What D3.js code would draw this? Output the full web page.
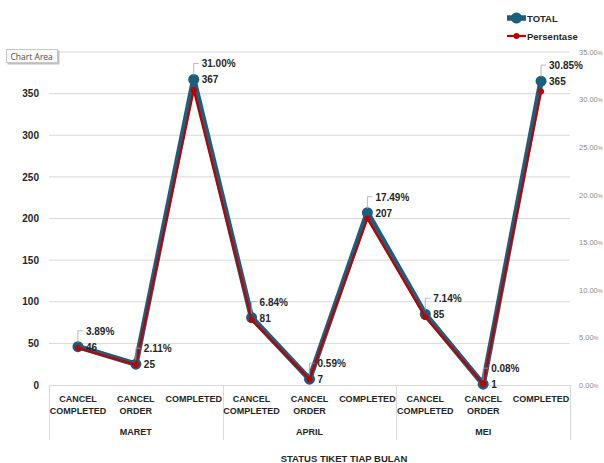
<!DOCTYPE html>
<html>
<head>
<meta charset="utf-8">
<script src="https://cdn.jsdelivr.net/npm/d3@7"></script>
<style>
  body { margin: 0; background: #fff; }
  svg { display: block; font-family: "Liberation Sans", Arial, sans-serif; }
</style>
</head>
<body>
<div id="chart"></div>
<script>
// chart data
const months = ['MARET', 'APRIL', 'MEI'];
const statuses = ['CANCEL COMPLETED', 'CANCEL ORDER', 'COMPLETED'];
const totals = [46, 25, 367, 81, 7, 207, 85, 1, 365];
const persen = [3.89, 2.11, 31.00, 6.84, 0.59, 17.49, 7.14, 0.08, 30.85];
const leftTicks = [0, 50, 100, 150, 200, 250, 300, 350];
const gridTicks = [50, 100, 150, 200, 250, 300, 350, 400];
const rightTicks = [0, 5, 10, 15, 20, 25, 30, 35];

const width = 604, height = 463;
const plot = { left: 49, right: 570, top: 52, bottom: 385 };
const blue = '#1c5e7e', red = '#c00000';

const rows = [];
months.forEach((m, i) => statuses.forEach((s, j) => {
  const k = i * statuses.length + j;
  rows.push({ id: k, month: m, status: s, total: totals[k], pct: persen[k] });
}));

const svg = d3.select('#chart').append('svg')
  .attr('width', width)
  .attr('height', height);

const x = d3.scaleBand()
  .domain(rows.map(d => d.id))
  .range([plot.left, plot.right]);

const yL = d3.scaleLinear().domain([0, 400]).range([plot.bottom, plot.top]);
const yR = d3.scaleLinear().domain([0, 35]).range([plot.bottom, plot.top]);

const cx = d => x(d.id) + x.bandwidth() / 2;

// gridlines
svg.append('g')
  .selectAll('line')
  .data(gridTicks)
  .enter()
  .append('line')
  .attr('x1', plot.left).attr('x2', plot.right)
  .attr('y1', d => yL(d)).attr('y2', d => yL(d))
  .attr('stroke', '#d9d9d9').attr('stroke-width', 1);

// left axis labels (400 sits under the tooltip in the original)
let axisL = svg.append('g')
  .attr('transform', `translate(${plot.left},0)`)
  .call(d3.axisLeft(yL).tickValues(leftTicks).tickSize(0).tickPadding(10));
axisL.select('.domain').remove();
axisL.selectAll('text')
  .attr('font-size', 10).attr('font-weight', 'bold').attr('fill', '#262626')
  .attr('font-family', '"Liberation Sans", Arial, sans-serif');

// right axis labels
let axisR = svg.append('g')
  .attr('transform', `translate(${plot.right},0)`)
  .call(d3.axisRight(yR).tickValues(rightTicks).tickSize(0).tickPadding(9).tickFormat(d => d.toFixed(2)));
axisR.select('.domain').remove();
axisR.selectAll('text')
  .attr('font-size', 7.5).attr('fill', '#8c8c8c')
  .attr('font-family', '"Liberation Sans", Arial, sans-serif')
  .append('tspan').attr('font-size', 5.5).text('%');

// category axis
let catAxis = svg.append('g');
catAxis.append('line')
  .attr('x1', plot.left).attr('x2', plot.right)
  .attr('y1', plot.bottom + 0.5).attr('y2', plot.bottom + 0.5)
  .attr('stroke', '#d9d9d9');

let sepX = [0, 3, 6].map(i => x(i)).concat([plot.right]);
catAxis.selectAll('line.sep')
  .data(sepX)
  .enter()
  .append('line')
  .classed('sep', true)
  .attr('x1', d => Math.round(d) + 0.5).attr('x2', d => Math.round(d) + 0.5)
  .attr('y1', plot.bottom).attr('y2', 440)
  .attr('stroke', '#d9d9d9');

let catText = catAxis.selectAll('text.cat')
  .data(rows)
  .enter()
  .append('text')
  .classed('cat', true)
  .attr('text-anchor', 'middle')
  .attr('font-size', 9).attr('font-weight', 'bold').attr('fill', '#262626')
  .attr('y', 402);

catText.each(function(d) {
  const words = d.status === 'COMPLETED' ? ['COMPLETED'] : d.status.split(' ');
  d3.select(this).selectAll('tspan')
    .data(words)
    .enter()
    .append('tspan')
    .attr('x', cx(d))
    .attr('dy', (w, i) => i === 0 ? 0 : 12)
    .text(w => w);
});

catAxis.selectAll('text.month')
  .data(months)
  .enter()
  .append('text')
  .classed('month', true)
  .attr('text-anchor', 'middle')
  .attr('font-size', 9).attr('font-weight', 'bold').attr('fill', '#262626')
  .attr('x', (d, i) => (sepX[i] + sepX[i + 1]) / 2)
  .attr('y', 435)
  .text(d => d);

// axis title
svg.append('text')
  .attr('x', 344).attr('y', 462)
  .attr('text-anchor', 'middle')
  .attr('font-size', 9.5).attr('font-weight', 'bold').attr('fill', '#262626')
  .text('STATUS TIKET TIAP BULAN');

// lines
const lineL = d3.line().x(cx).y(d => yL(d.total));
const lineR = d3.line().x(cx).y(d => yR(d.pct));

svg.append('path')
  .datum(rows)
  .attr('d', lineL)
  .attr('fill', 'none')
  .attr('stroke', blue)
  .attr('stroke-width', 5.5)
  .attr('stroke-linejoin', 'round');

svg.append('g')
  .selectAll('circle')
  .data(rows)
  .enter()
  .append('circle')
  .attr('cx', cx).attr('cy', d => yL(d.total))
  .attr('r', 5.5)
  .attr('fill', blue);

svg.append('path')
  .datum(rows)
  .attr('d', lineR)
  .attr('fill', 'none')
  .attr('stroke', red)
  .attr('stroke-width', 2.2)
  .attr('stroke-linejoin', 'round');

svg.append('g')
  .selectAll('circle')
  .data(rows)
  .enter()
  .append('circle')
  .attr('cx', cx).attr('cy', d => yR(d.pct))
  .attr('r', 3)
  .attr('fill', red);

// data labels
let labels = svg.append('g');
labels.selectAll('text.val')
  .data(rows)
  .enter()
  .append('text')
  .classed('val', true)
  .attr('x', d => cx(d) + 8)
  .attr('y', d => yL(d.total) + 4)
  .attr('font-size', 10).attr('font-weight', 'bold').attr('fill', '#262626')
  .text(d => d.total);

// leader lines for percentage labels
labels.selectAll('path.lead')
  .data(rows)
  .enter()
  .append('path')
  .classed('lead', true)
  .attr('d', d => {
    const px = cx(d), py = yL(d.total) - 16;
    return `M${px},${yL(d.total) - 4}V${py}H${px + 5}`;
  })
  .attr('fill', 'none')
  .attr('stroke', '#a6a6a6')
  .attr('stroke-width', 0.8);

labels.selectAll('text.pct')
  .data(rows)
  .enter()
  .append('text')
  .classed('pct', true)
  .attr('x', d => cx(d) + 8)
  .attr('y', d => yL(d.total) - 12)
  .attr('font-size', 10).attr('font-weight', 'bold').attr('fill', '#262626')
  .text(d => d.pct.toFixed(2) + '%');

// legend
let legend = svg.append('g');
const legendItems = [
  { name: 'TOTAL', color: blue, w: 5.5, r: 5.5, y: 18 },
  { name: 'Persentase', color: red, w: 2.2, r: 3, y: 36 }
];
legendItems.forEach(item => {
  legend.append('line')
    .attr('x1', 507).attr('x2', 526)
    .attr('y1', item.y).attr('y2', item.y)
    .attr('stroke', item.color).attr('stroke-width', item.w);
  legend.append('circle')
    .attr('cx', 516.5).attr('cy', item.y).attr('r', item.r)
    .attr('fill', item.color);
  legend.append('text')
    .attr('x', 527).attr('y', item.y + 3.5)
    .attr('font-size', 9.5).attr('font-weight', 'bold').attr('fill', '#262626')
    .text(item.name);
});

// "Chart Area" tooltip
let tip = svg.append('g').attr('transform', 'translate(6,49)');
tip.append('rect')
  .attr('x', 1.5).attr('y', 1.5).attr('width', 52).attr('height', 14)
  .attr('fill', '#bfbfbf');
tip.append('rect')
  .attr('x', 0.5).attr('y', 0.5).attr('width', 51).attr('height', 13)
  .attr('fill', '#fafafa').attr('stroke', '#c8c8c8');
tip.append('text')
  .attr('x', 4.5).attr('y', 10.5)
  .attr('font-size', 8.5).attr('fill', '#505050')
  .attr('font-family', '"Open Sans", sans-serif')
  .text('Chart Area');
</script>
</body>
</html>
